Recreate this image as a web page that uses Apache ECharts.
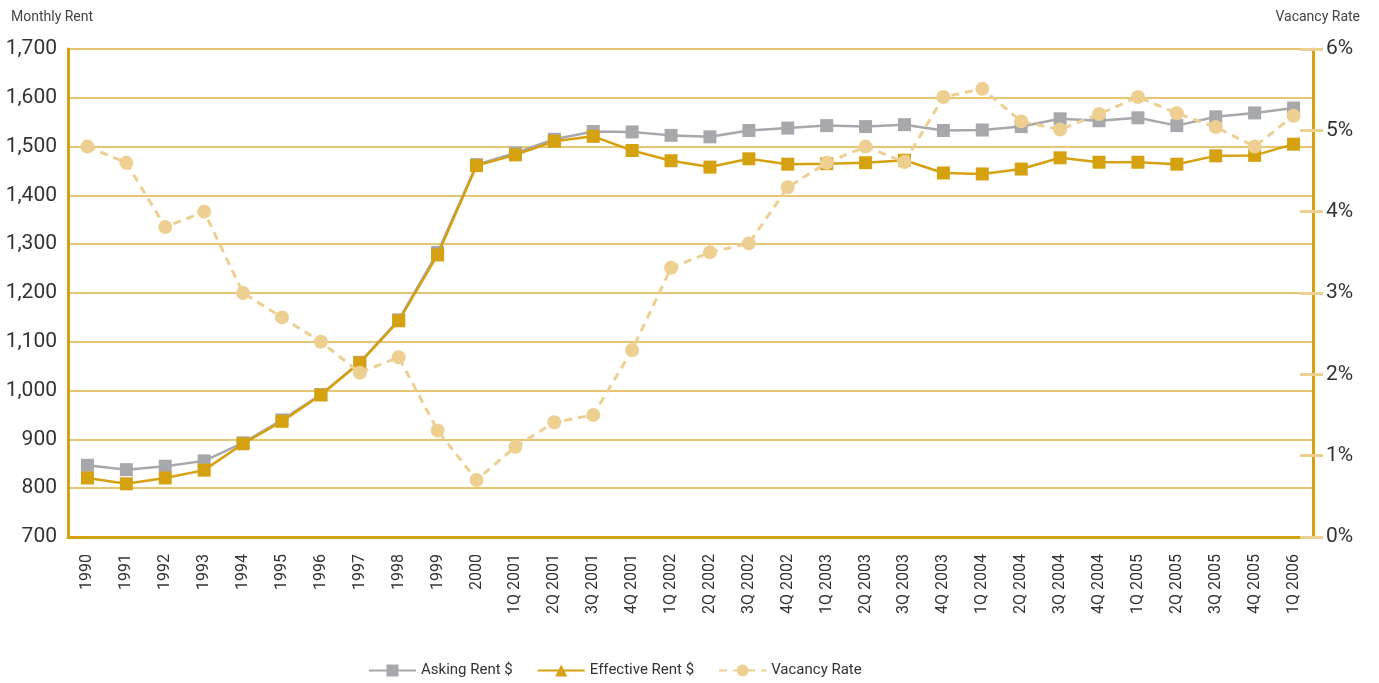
<!DOCTYPE html>
<html>
<head>
<meta charset="utf-8">
<script src="https://cdn.jsdelivr.net/npm/echarts@6/dist/echarts.min.js"></script>
<style>
html,body{margin:0;padding:0;background:#fff;}
#chart{width:1379px;height:683px;}
</style>
</head>
<body>
<div id="chart"></div>
<script>
const categories = ['1990','1991','1992','1993','1994','1995','1996','1997','1998','1999','2000',
  '1Q 2001','2Q 2001','3Q 2001','4Q 2001','1Q 2002','2Q 2002','3Q 2002','4Q 2002',
  '1Q 2003','2Q 2003','3Q 2003','4Q 2003','1Q 2004','2Q 2004','3Q 2004','4Q 2004',
  '1Q 2005','2Q 2005','3Q 2005','4Q 2005','1Q 2006'];
const askingRent = [847,838,845,856,893,940,992,1058,1145,1283,1463,
  1487,1515,1531,1530,1523,1520,1533,1538,1543,1541,1545,1533,1534,1541,1557,1553,1559,1543,1561,1569,1579];
const effectiveRent = [821,809,821,837,891,937,991,1057,1143,1278,1461,
  1483,1511,1521,1492,1471,1458,1475,1464,1465,1467,1472,1446,1444,1454,1477,1468,1468,1464,1481,1482,1505];
const vacancyRate = [4.80,4.60,3.81,4.00,3.00,2.70,2.40,2.02,2.21,1.31,0.70,
  1.11,1.41,1.50,2.30,3.31,3.50,3.61,4.30,4.60,4.80,4.61,5.41,5.51,5.11,5.01,5.20,5.41,5.21,5.04,4.80,5.18];
const leftTicks = {min:700, max:1700, interval:100};
const rightTicks = {min:0, max:6, interval:1};

const FONT = "Roboto,'Liberation Sans',sans-serif";
const GOLD = '#D6A10F';
const GRID = '#E0B245';
const GRAY = '#A7A8AC';
const TAN = '#EDCF92';
const TXT = '#333333';

const chart = echarts.init(document.getElementById('chart'));
chart.setOption({
  animation:false,
  backgroundColor:'#fff',
  title:[
    {text:'Monthly Rent', left:6, top:5, textStyle:{fontFamily:FONT,fontSize:14,fontWeight:'normal',color:'#444'}},
    {text:'Vacancy Rate', right:14, top:5, textStyle:{fontFamily:FONT,fontSize:14,fontWeight:'normal',color:'#444'}}
  ],
  grid:{left:68, right:66, top:49, bottom:146, containLabel:false},
  legend:{
    top:658, left:363, itemWidth:47, itemHeight:15, itemGap:24,
    textStyle:{fontFamily:FONT,fontSize:15,color:TXT},
    data:['Asking Rent $','Effective Rent $','Vacancy Rate']
  },
  xAxis:{
    type:'category', data:categories, boundaryGap:true,
    axisLine:{lineStyle:{color:GOLD,width:3}},
    axisTick:{inside:true, alignWithLabel:true, length:11, lineStyle:{color:GOLD,width:2}},
    axisLabel:{rotate:90, interval:0, fontFamily:FONT, fontSize:16, color:TXT, margin:17},
    splitLine:{show:false}
  },
  yAxis:[
    {type:'value', position:'left', min:leftTicks.min, max:leftTicks.max, interval:leftTicks.interval,
     axisLine:{show:true,lineStyle:{color:GOLD,width:3}},
     axisTick:{show:false},
     axisLabel:{fontFamily:FONT,fontSize:21,color:TXT,margin:11,
       formatter:v=>v.toLocaleString('en-US')},
     splitLine:{show:true,lineStyle:{color:GRID,width:1.5}}},
    {type:'value', position:'right', min:rightTicks.min, max:rightTicks.max, interval:rightTicks.interval,
     axisLine:{show:true,lineStyle:{color:GOLD,width:3}},
     axisTick:{show:true,inside:false,length:10,lineStyle:{color:TAN,width:3}},
     axisLabel:{fontFamily:FONT,fontSize:21,color:TXT,margin:13,formatter:'{value}%'},
     splitLine:{show:false}},
    {type:'value', position:'right', min:rightTicks.min, max:rightTicks.max, interval:rightTicks.interval,
     axisLine:{show:false},
     axisTick:{show:true,inside:true,length:13,lineStyle:{color:TAN,width:3}},
     axisLabel:{show:false},
     splitLine:{show:false}}
  ],
  series:[
    {name:'Asking Rent $', type:'line', yAxisIndex:0, data:askingRent,
     symbol:'rect', symbolSize:13, z:2,
     lineStyle:{color:GRAY,width:2.5}, itemStyle:{color:GRAY}},
    {name:'Effective Rent $', type:'line', yAxisIndex:0,
     data:effectiveRent.map(v=>({value:v, symbol:'rect'})),
     symbol:'triangle', symbolSize:13, z:3,
     lineStyle:{color:GOLD,width:2.5}, itemStyle:{color:GOLD}},
    {name:'Vacancy Rate', type:'line', yAxisIndex:1, data:vacancyRate,
     symbol:'circle', symbolSize:14, z:4,
     lineStyle:{color:TAN,width:3,type:[8,6]}, itemStyle:{color:TAN}}
  ]
});
</script>
</body>
</html>
